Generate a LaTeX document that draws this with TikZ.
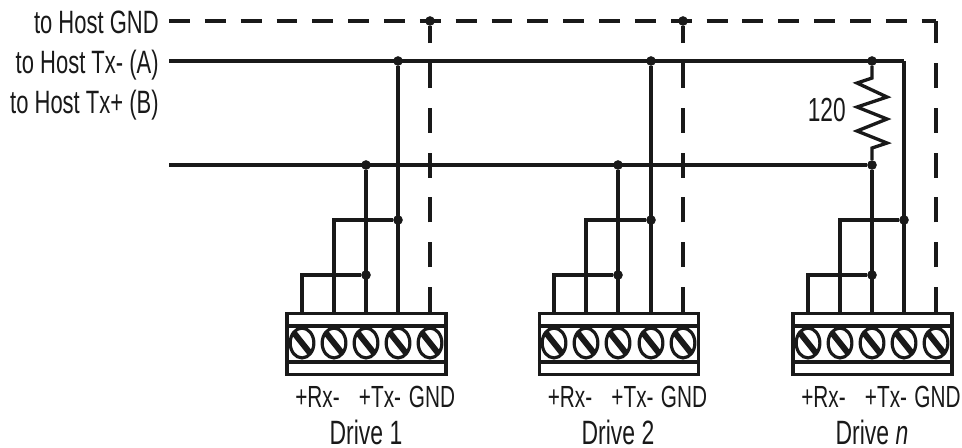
\documentclass[tikz,border=0pt]{standalone}
\usepackage{fontspec}
\setmainfont[FakeStretch=0.68]{Liberation Sans}
\usetikzlibrary{shapes.geometric}

\tikzset{
    bus/.style={line width=2.2pt, color=black!90},
    wire/.style={line width=1.9pt, color=black!90},
    strip/.style={line width=2pt, color=black!90},
    gndh/.style={line width=2.2pt, color=black!90, dash pattern=on 11.9pt off 8.5pt},
    gndv/.style={line width=1.85pt, color=black!90, dash pattern=on 14.2pt off 11.3pt},
    jdot/.style={circle, fill=black!90, inner sep=0pt, minimum size=5.5pt},
    block/.style={rectangle, draw=black!90, line width=2pt, minimum width=90.5pt, minimum height=34.5pt, inner sep=0pt},
    screw/.style={ellipse, draw=black!90, line width=1.8pt, inner sep=0pt, minimum width=13.5pt, minimum height=17pt,
        path picture={\draw[line width=3.4pt, black!90] (path picture bounding box.north west) -- (path picture bounding box.south east);}},
    lbl/.style={inner sep=0pt, text=black!90, anchor=base, font=\fontsize{17.4}{20}\selectfont},
    hostlbl/.style={inner sep=0pt, text=black!90, anchor=base east, font=\fontsize{18.4}{21}\selectfont},
    drivelbl/.style={inner sep=0pt, text=black!90, anchor=base, font=\fontsize{19.2}{22}\selectfont},
}

\begin{document}
\begin{tikzpicture}[x=0.02cm, y=-0.02cm]
        \useasboundingbox (0,0) rectangle (962,447);

        %host labels
        \node[hostlbl] (lg) at (159,33) {to Host GND};
        \node[hostlbl] (la) at (159,73) {to Host Tx- (A)};
        \node[hostlbl] (lb) at (159,113) {to Host Tx+ (B)};

        %free ends of the bus lines
        \coordinate (gs) at (169,21);
        \coordinate (gc) at (936,21);
        \coordinate (as) at (169,61);
        \coordinate (ac) at (904,61);
        \coordinate (bs) at (169,165);

        %terminal blocks
        \node[block] (tb1) at (366.5,344) {};
        \node[block] (tb2) at (619,344) {};
        \node[block] (tb3) at (872.5,344) {};

        %screws
        \node[screw] (s11) at (302,343) {};
        \node[screw] (s12) at (334,343) {};
        \node[screw] (s13) at (366,343) {};
        \node[screw] (s14) at (398,343) {};
        \node[screw] (s15) at (430,343) {};
        \node[screw] (s21) at (554,343) {};
        \node[screw] (s22) at (586,343) {};
        \node[screw] (s23) at (618,343) {};
        \node[screw] (s24) at (651,343) {};
        \node[screw] (s25) at (683,343) {};
        \node[screw] (s31) at (808,343) {};
        \node[screw] (s32) at (840,343) {};
        \node[screw] (s33) at (872,343) {};
        \node[screw] (s34) at (904,343) {};
        \node[screw] (s35) at (936,343) {};

        %junctions
        \node[jdot] (g1) at (430,21) {};
        \node[jdot] (g2) at (683,21) {};
        \node[jdot] (a1) at (398,61) {};
        \node[jdot] (a2) at (651,61) {};
        \node[jdot] (a3) at (872,61) {};
        \node[jdot] (b1) at (366,165) {};
        \node[jdot] (b2) at (618,165) {};
        \node[jdot] (b3) at (872,165) {};
        \node[jdot] (t1) at (398,220) {};
        \node[jdot] (t2) at (651,220) {};
        \node[jdot] (t3) at (904,220) {};
        \node[jdot] (r1) at (366,275) {};
        \node[jdot] (r2) at (618,275) {};
        \node[jdot] (r3) at (872,275) {};

        %bus lines
        \draw[gndh] (gs) -- (gc);
        \draw[bus] (as) -- (ac);
        \draw[bus] (bs) -- (b3);

        %resistor
        \draw[wire] (a3) -- (872,78) -- (857,83) -- (887,97) -- (857,107) -- (887,119) -- (857,131) -- (887,143) -- (872,148) -- (b3);
        \node[hostlbl, font=\fontsize{19}{22}\selectfont] (rv) at (846,121) {120};

        %drive 1 wires
        \draw[wire] (a1) -- (s14 |- tb1.north);
        \draw[wire] (b1) -- (s13 |- tb1.north);
        \draw[wire] (t1) -| (s12 |- tb1.north);
        \draw[wire] (r1) -| (s11 |- tb1.north);
        \draw[gndv] (s15 |- tb1.north) -- (g1);

        %drive 2 wires
        \draw[wire] (a2) -- (s24 |- tb2.north);
        \draw[wire] (b2) -- (s23 |- tb2.north);
        \draw[wire] (t2) -| (s22 |- tb2.north);
        \draw[wire] (r2) -| (s21 |- tb2.north);
        \draw[gndv] (s25 |- tb2.north) -- (g2);

        %drive n wires
        \draw[wire] (ac) -- (s34 |- tb3.north);
        \draw[wire] (b3) -- (s33 |- tb3.north);
        \draw[wire] (t3) -| (s32 |- tb3.north);
        \draw[wire] (r3) -| (s31 |- tb3.north);
        \draw[gndv] (s35 |- tb3.north) -- (gc);

        %block strips
        \draw[strip] (tb1.west |- 0,326) -- (tb1.east |- 0,326);
        \draw[strip] (tb1.west |- 0,362) -- (tb1.east |- 0,362);
        \draw[strip] (tb2.west |- 0,326) -- (tb2.east |- 0,326);
        \draw[strip] (tb2.west |- 0,362) -- (tb2.east |- 0,362);
        \draw[strip] (tb3.west |- 0,326) -- (tb3.east |- 0,326);
        \draw[strip] (tb3.west |- 0,362) -- (tb3.east |- 0,362);

        %terminal labels
        \node[lbl] (rx1) at (317.5,407) {+Rx-};
        \node[lbl] (tx1) at (380,407) {+Tx-};
        \node[lbl] (gd1) at (432,407) {GND};
        \node[drivelbl] (dr1) at (366,444) {Drive 1};
        \node[lbl] (rx2) at (570,407) {+Rx-};
        \node[lbl] (tx2) at (632.5,407) {+Tx-};
        \node[lbl] (gd2) at (684,407) {GND};
        \node[drivelbl] (dr2) at (618,444) {Drive 2};
        \node[lbl] (rx3) at (823.5,407) {+Rx-};
        \node[lbl] (tx3) at (886,407) {+Tx-};
        \node[lbl] (gd3) at (937.5,407) {GND};
        \node[drivelbl] (dr3) at (872,444) {Drive \textit{n}};
    \end{tikzpicture}
\end{document}
